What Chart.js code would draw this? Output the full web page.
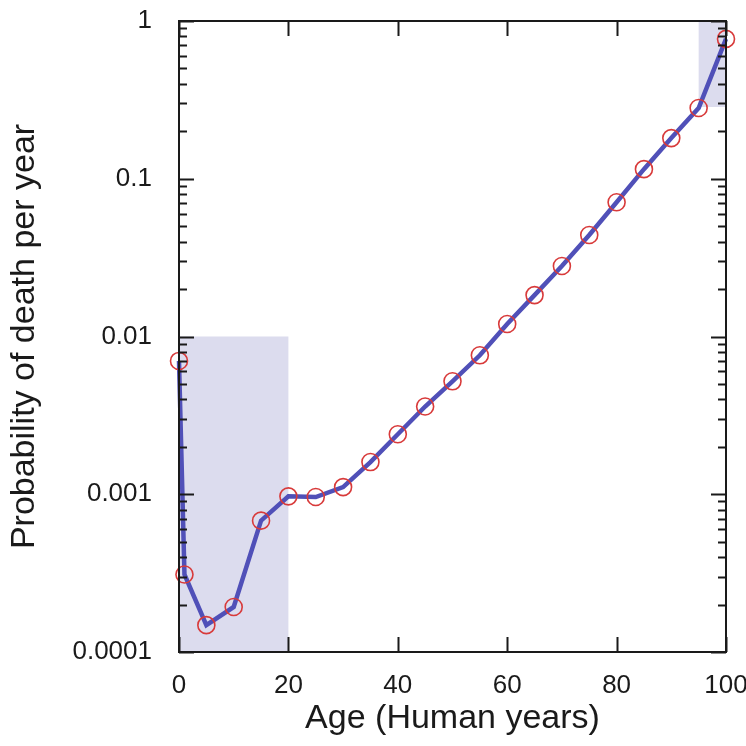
<!DOCTYPE html>
<html>
<head>
<meta charset="utf-8">
<script src="https://cdn.jsdelivr.net/npm/chart.js@4.4.1/dist/chart.umd.min.js"></script>
<style>
  html, body { margin: 0; padding: 0; background: #fff; }
  #wrap { width: 746px; height: 746px; }
</style>
</head>
<body>
<div id="wrap"><canvas id="c" width="746" height="746"></canvas></div>
<script>
// data
const ages = [0, 1, 5, 10, 15, 20, 25, 30, 35, 40, 45, 50, 55, 60, 65, 70, 75, 80, 85, 90, 95, 100];
const deathProb = [0.0070, 0.00031, 0.000148, 0.000193, 0.00068, 0.00097, 0.00096, 0.00111, 0.0016, 0.0024,
  0.0036, 0.0052, 0.0076, 0.0120, 0.0183, 0.028, 0.044, 0.071, 0.115, 0.181, 0.281, 0.77];
const xTicks = [0, 20, 40, 60, 80, 100];
const yTicks = [0.0001, 0.001, 0.01, 0.1, 1];
// shaded boxes: [x0, x1, y0, y1]
const shadeBoxes = [[0, 20, 0.0001, 0.01], [95, 100, 0.285, 1]];

const FONT = "'Liberation Sans', Arial, sans-serif";

const frame = {
  id: 'frame',
  beforeDatasetsDraw(chart) {
    const { ctx, scales: { x, y } } = chart;
    ctx.save();
    ctx.fillStyle = '#dcdcee';
    shadeBoxes.forEach(b => {
      const l = x.getPixelForValue(b[0]), r = x.getPixelForValue(b[1]);
      const t = y.getPixelForValue(b[3]), bt = y.getPixelForValue(b[2]);
      ctx.fillRect(l, t, r - l, bt - t);
    });
    ctx.restore();
  },
  afterDraw(chart) {
    const { ctx, chartArea: a, scales: { x, y } } = chart;
    ctx.save();
    ctx.strokeStyle = '#1a1a1a';
    ctx.lineWidth = 2;
    ctx.strokeRect(a.left, a.top, a.right - a.left, a.bottom - a.top);
    ctx.beginPath();
    // x ticks, inward on bottom and top
    xTicks.forEach(v => {
      const px = Math.round(x.getPixelForValue(v)) + 0.5;
      ctx.moveTo(px, a.bottom); ctx.lineTo(px, a.bottom - 15);
      ctx.moveTo(px, a.top); ctx.lineTo(px, a.top + 15);
    });
    // y ticks, major + minor, inward on left and right
    for (let d = -4; d <= 0; d++) {
      for (let m = 1; m <= 9; m++) {
        const v = m * Math.pow(10, d);
        if (v > 1.0001) break;
        const len = m === 1 ? 15 : 8;
        const py = Math.round(y.getPixelForValue(v)) + 0.5;
        ctx.moveTo(a.left, py); ctx.lineTo(a.left + len, py);
        ctx.moveTo(a.right, py); ctx.lineTo(a.right - len, py);
      }
    }
    ctx.stroke();
    ctx.restore();
  }
};

new Chart(document.getElementById('c'), {
  type: 'line',
  data: {
    datasets: [{
      data: ages.map((a, i) => ({ x: a, y: deathProb[i] })),
      borderColor: '#5050b8',
      borderWidth: 4.5,
      tension: 0,
      pointRadius: 8.5,
      pointBorderColor: '#d83a3a',
      pointBorderWidth: 1.6,
      pointBackgroundColor: 'rgba(0,0,0,0)',
      clip: false
    }]
  },
  options: {
    responsive: false,
    animation: false,
    layout: { padding: { left: 0, right: 20, top: 21, bottom: 0 } },
    plugins: { legend: { display: false }, tooltip: { enabled: false } },
    scales: {
      x: {
        type: 'linear', min: 0, max: 100,
        afterBuildTicks: s => { s.ticks = xTicks.map(v => ({ value: v })); },
        afterFit: s => { s.height = 94; s.paddingLeft = 0; s.paddingRight = 0; },
        grid: { display: false, drawTicks: false },
        border: { display: false },
        ticks: { padding: 18, color: '#1a1a1a', font: { family: FONT, size: 26 }, maxRotation: 0 },
        title: { display: true, text: 'Age (Human years)', color: '#1a1a1a',
          font: { family: FONT, size: 34 }, padding: { top: 0, bottom: 7 } }
      },
      y: {
        type: 'logarithmic', min: 0.0001, max: 1,
        afterBuildTicks: s => { s.ticks = yTicks.map(v => ({ value: v, major: true })); },
        afterFit: s => { s.width = 179; s.paddingTop = 0; s.paddingBottom = 0; },
        grid: { display: false, drawTicks: false },
        border: { display: false },
        ticks: { padding: 27, color: '#1a1a1a', font: { family: FONT, size: 26 },
          callback: v => String(v) },
        title: { display: true, text: 'Probability of death per year', color: '#1a1a1a',
          font: { family: FONT, size: 34 }, padding: { top: 4, bottom: 0 } }
      }
    }
  },
  plugins: [frame]
});
</script>
</body>
</html>
